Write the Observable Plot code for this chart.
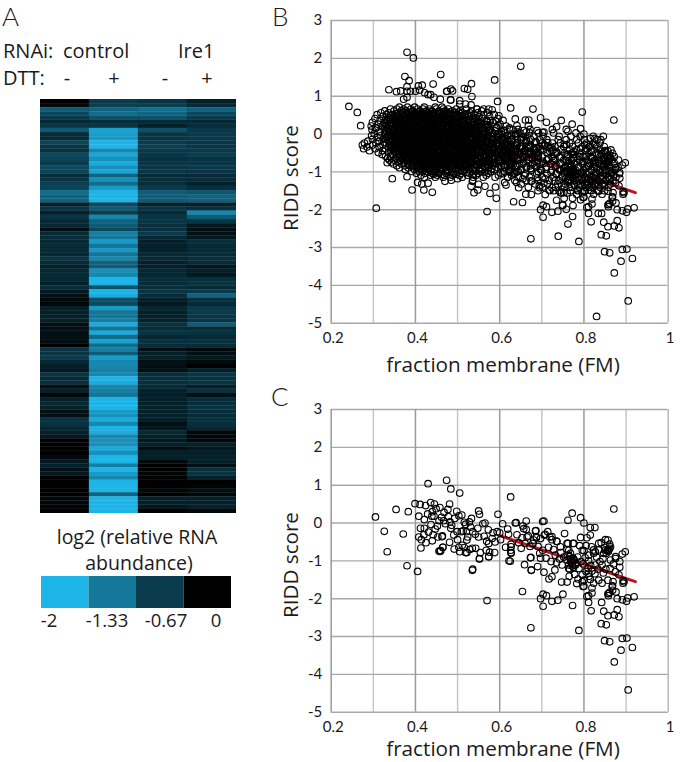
<!DOCTYPE html>
<html><head><meta charset="utf-8">
<script src="https://cdn.jsdelivr.net/npm/d3@7"></script>
<script src="https://cdn.jsdelivr.net/npm/@observablehq/plot@0.6"></script>
<style>
html,body{margin:0;padding:0;background:#fff}
#page{position:relative;width:680px;height:762px;overflow:hidden;font-family:"Open Sans",sans-serif;color:#1a1a1a}
#page>svg,#page>div.p{position:absolute}
.t{position:absolute;line-height:1.2;white-space:nowrap}
</style></head><body><div id="page"></div>
<script>
// Panel A: heat map values, one list per column, top row first
const columns = ["control -", "control +", "Ire1 -", "Ire1 +"];
const col1 = [0,-.05,-1,-.8,-.6,-.25,-.55,-1,-.35,-.3,-.75,-.55,-.45,-.8,-.75,-.6,-.8,-.75,-.35,-.5,-.7,-.75,-1.2,-1.1,-1.1,-.2,-.55,-.2,-.5,-.25,-.25,-.1,-.3,-.35,-.25,-.3,-.3,-.25,-.5,-.3,-.2,-.25,-.3,-.25,-.2,-.35,-.15,-.1,-.05,-.05,-.2,-.2,-.2,-.2,-.1,-.1,-.1,-.1,-.08,0,-.5,-.5,-.6,-.25,-.2,-.15,-.5,-.3,-.4,-.1,-.2,-.05,-.2,-.25,-.2,-.1,-.1,-.5,-.45,-.25,-.2,-.15,0,0,0,0,-.05,-.15,-.2,-.1,-.15,0,0,0,0,0,-.05,-.05,-.02,0];
const col2 = [-.65,-.7,-1.1,-1.2,-.9,-.3,-.5,-1.8,-1.75,-1.7,-2,-2,-1.5,-1.85,-1.6,-1.9,-1.6,-1.8,-1.1,-1.6,-1.2,-1.7,-2,-2,-2,-.8,-1,-.7,-1.5,-1.1,-1,-.8,-1.4,-1.3,-1.7,-1.3,-1.7,-1.3,-1.5,-1.1,-1,-1.6,-1.5,-2,-2,-.9,-2,-1.9,-.9,-.8,-1.7,-1.3,-1.3,-1.4,-1.9,-1.3,-1.9,-1.2,-1.8,-1.2,-1.4,-1,-1.7,-1.5,-1.5,-1.4,-1.5,-2,-1.9,-1.5,-1.4,-1.3,-2,-2,-2,-1.7,-1.6,-1.9,-1.5,-2,-1.9,-1.5,-1.6,-1.6,-1.9,-1.6,-2,-2,-1.4,-2,-1.7,-1.5,-2,-2,-2,-1.1,-2,-2,-2,-2];
const col3 = [-.5,-.7,-1.25,-1.1,-.9,-.3,-.2,-.9,-.5,-.5,-.65,-.7,-.6,-.55,-.45,-.55,-.5,-.55,-.3,-.4,-.35,-.6,-1,-1.05,-1,-.2,-.55,-.3,-.5,-.55,-.4,-.4,-.6,-.25,-.2,-.2,-.2,-.3,-.3,-.2,-.2,-.25,-.25,-.4,-.35,-.4,-.5,-.35,-.2,-.15,-.25,-.2,-.2,-.2,-.45,-.35,-.5,-.25,-.45,-.35,-.1,-.2,-.2,-.1,-.1,-.1,-.35,-.4,-.4,-.3,-.2,-.2,-.2,-.2,-.2,-.2,-.2,-.2,-.1,-.15,-.25,-.2,-.15,-.2,-.1,-.2,-.2,-.05,0,0,-.03,-.02,0,0,-.05,0,-.2,-.2,-.15,0];
const col4 = [-.2,-.3,-1.1,-.8,-.6,-.25,-.35,-.6,-.6,-.6,-.55,-.5,-.6,-.7,-.5,-.55,-.6,-.5,-.3,-.35,-.2,-.4,-.95,-1.1,-1.05,-.2,-.4,-1.5,-1,-.55,-.15,-.1,-.1,-.15,-.4,-.3,-.3,-.35,-.4,-.3,-.15,-.2,-.15,-.4,-.45,-.3,-.6,-1.1,-.4,-.3,-.6,-.6,-.55,-.5,-1,-.3,-.45,-.3,-.45,-.35,-.05,-.1,-.15,-.05,0,-.2,-.55,-.45,-.5,-.2,-.45,-.1,-.35,-.35,-.45,-.35,-.3,-.45,-.4,-.25,-.05,-.05,-.05,-.2,-.15,-.2,-.2,-.2,-.1,-.4,-.45,-.2,0,-.02,-.1,-.05,-.2,-.2,-.2,-.05];
// Panel A: colour key
const keyValues = [-2, -1.33, -.67, 0];
const keyLabels = ["-2", "-1.33", "-0.67", "0"];

// Panels B and C: axis ticks and grid
const xMajor = [.2,.4,.6,.8,1];
const xMinor = [.3,.5,.7,.9];
const yTicks = [-5,-4,-3,-2,-1,0,1,2,3];
const xDomain = [.2,1];
const yDomain = [-5,3];
// trend line, end points
const trendFM = [.602,.922];
const trendRidd = [-.34,-1.55];

// Panel C points, also present in panel B: [FM, RIDD score]
const filteredGenes = [[.305,.16],[.326,-.22],[.333,-.76],[.354,.36],[.371,-.29],[.383,.30],[.380,-1.13],[.399,.51],[.405,-1.28],[.411,.49],[.408,.18],[.408,-.37],[.412,-.14],[.421,-.14],[.420,-.31],[.414,-.44],[.413,-.66],[.425,-.52],[.424,.46],[.430,1.04],[.436,.54],[.445,.50],[.458,.41],[.421,.09],[.440,.30],[.439,.18],[.444,.18],[.437,-.04],[.440,-.47],[.453,-.37],[.463,-.36],[.464,-.34],[.465,-.64],[.458,-.75],[.477,.36],[.481,.50],[.474,1.13],[.484,.90],[.505,.79],[.462,.15],[.478,.17],[.467,.06],[.482,.03],[.486,-.06],[.484,-.14],[.491,-.32],[.499,-.23],[.509,-.23],[.513,-.21],[.500,-.44],[.481,-.51],[.492,-.69],[.503,-.64],[.511,-.59],[.505,-.76],[.519,-.78],[.516,-.65],[.503,.19],[.510,.21],[.519,-.03],[.528,.03],[.533,.12],[.524,-.37],[.522,-.45],[.536,-.23],[.542,-.30],[.550,-.37],[.550,.32],[.552,.23],[.560,-.02],[.565,0],[.563,-.35],[.569,-.48],[.574,-.54],[.535,-.67],[.543,-.67],[.529,-.70],[.522,-.78],[.554,-.78],[.552,-.95],[.568,-.72],[.576,-.77],[.574,-.89],[.588,-.78],[.584,-.26],[.596,.23],[.594,-.23],[.600,-.26],[.589,-.50],[.602,-.44],[.607,-.02],[.619,-.16],[.621,-.30],[.626,.69],[.637,0],[.639,.01],[.655,-.08],[.663,.05],[.657,-.15],[.663,-.17],[.665,-.37],[.668,-.34],[.653,-.39],[.645,-.52],[.627,-.56],[.626,-.72],[.627,-.80],[.622,-1],[.625,-1.01],[.651,-.67],[.660,-.54],[.681,-.45],[.685,-.21],[.687,-.39],[.705,.05],[.702,.04],[.714,-.23],[.706,-.32],[.719,-.37],[.724,-.44],[.735,-.48],[.754,-.28],[.772,.26],[.762,.07],[.792,.14],[.800,0],[.815,-.12],[.826,-.12],[.792,-.38],[.807,-.39],[.815,-.32],[.760,-.54],[.776,-.54],[.764,-.72],[.796,-.72],[.800,-.73],[.818,-.63],[.835,-.54],[.871,.37],[.851,-.44],[.857,-.45],[.861,-.56],[.861,-.67],[.855,-.73],[.847,-.80],[.827,-.76],[.875,-.94],[.891,-.82],[.898,-.76],[.823,-.80],[.673,-.92],
[.536,-1.22],[.570,-2.05],[.654,-1.81],[.659,-1.10],[.675,-1.24],[.674,-.91],[.627,-.63],[.627,-.78],[.552,-.94],[.574,-.89],[.46,-.73],[.456,-.74],[.465,-.64],
[.690,-1.15],[.697,-.93],[.710,-.93],[.732,-.85],[.748,-1.11],[.764,-1.20],[.772,-1],[.776,-.96],[.768,-.80],[.780,-1.07],[.811,-.85],[.823,-.71],[.835,-.71],[.841,-.52],[.857,-.71],[.686,-.20],[.708,-.30],[.697,-.41],[.687,-.36],[.679,-.54],[.724,-.36],[.736,-.49],[.744,-.63],[.762,-.54],[.774,-.54],[.760,-.70],[.875,-.89],[.863,-.98],[.843,-1.11],[.827,-1.11],[.811,-1],[.798,-1.08],[.796,-1.37],[.800,-1.51],[.798,-1.68],[.811,-1.33],[.815,-1.49],[.823,-1.59],[.835,-1.51],[.843,-1.59],[.857,-1.51],[.869,-1.55],[.885,-1.17],[.875,-1.29],[.883,-1.37],[.893,-1.59],[.895,-1.55],[.867,-1.68],[.859,-1.86],
[.766,-.89],[.774,-.93],[.769,-1.02],[.777,-.99],[.764,-1.11],[.772,-1.13],[.766,-1.22],[.780,-1.11],[.760,-.98],[.762,-.85],[.771,-1.05],[.775,-1.17],[.768,-.95],[.851,-.71],[.859,-.70],[.863,-.63],[.853,-.80],[.858,-.75],[.849,-.65],[.810,-1.2],[.816,-1.12],[.805,-1.28],[.819,-1.27],[.826,-1.34],[.812,-1.41],[.833,-1.22],[.838,-1.02],[.788,-1.2],[.793,-1.02],[.785,-.9],[.803,-.92],[.735,-1.05],[.722,-1.02],[.742,-.95],[.702,-.72],[.716,-.64],[.728,-.7],[.691,-.62],[.695,-.8],[.745,-.78],[.752,-.9],[.79,-.6],[.805,-.6],[.83,-.9],[.845,-.95],[.87,-1.08],[.885,-1.02],[.862,-1.2],[.846,-1.32],[.852,-1.22],
[.705,-1.30],[.535,-1.25],[.675,-1.25],[.717,-1.48],[.724,-1.42],[.731,-1.24],[.747,-1.56],[.760,-1.56],[.765,-1.41],[.697,-2],[.703,-1.88],[.711,-1.92],[.703,-2.2],[.724,-2.07],[.738,-2.04],[.750,-1.88],[.773,-2.18],[.674,-2.77],[.788,-2.84],[.800,-1.67],[.811,-1.92],[.807,-1.94],[.811,-2.1],[.817,-2.32],[.819,-1.85],[.819,-1.72],[.842,-2.1],[.847,-2.33],[.857,-2.45],[.872,-2.43],[.879,-2.29],[.883,-2.48],[.841,-2.66],[.853,-2.69],[.849,-3.11],[.861,-3.14],[.891,-3.05],[.902,-3.04],[.888,-3.36],[.915,-3.29],[.872,-3.67],[.905,-4.41],[.858,-1.92],[.861,-1.83],[.868,-1.78],[.868,-1.66],[.857,-1.87],[.876,-1.82],[.879,-2],[.891,-2.03],[.901,-2.07],[.904,-1.98],[.919,-1.95],[.893,-1.52],[.786,-1.48],[.778,-1.36],[.783,-1.6],[.796,-1.55],
[.447,-.16],[.452,-.08],[.431,-.24],[.442,-.31],[.471,-.02],[.456,.06],[.449,.38],[.468,.28],[.493,.12],[.516,.02],[.531,-.11],[.548,-.14],[.521,-.23],[.573,-.18],[.582,-.41],[.614,-.64],[.641,-.31],[.672,-.62],[.429,.24],[.498,.31]];

// Panel B: additional points that stand apart from the cloud
const outlyingGenes = [[.380,2.16],[.395,2.01],[.650,1.79],[.460,1.57],[.375,1.52],[.385,1.41],[.588,1.43],[.442,1.32],[.533,1.33],[.407,1.27],[.416,1.29],[.484,1.19],[.516,1.20],[.524,1.18],[.534,.99],[.475,1.13],[.488,1.14],[.337,1.17],[.355,1.12],[.365,1.14],[.380,1.25],[.380,1.13],[.388,1.13],[.400,1.13],[.410,1.16],[.422,1.09],[.436,1.04],[.444,.97],[.459,.92],[.372,.92],[.380,.97],[.242,.73],[.262,.57],[.270,.22],[.595,.86],[.679,.66],[.637,.40],[.661,.37],[.669,.37],[.697,.43],[.711,.31],[.746,.36],[.735,.19],[.796,.58],[.562,.66],[.574,.66],[.582,.64],[.505,.88],[.483,.90],[.519,.79],[.532,.77],[.546,.66],[.598,.48],[.578,.35],[.590,.35],[.623,.16],[.610,.09],[.657,.09],[.689,.09],
[.307,-1.96],[.633,-1.79],[.592,-1.70],[.577,-1.57],[.539,-1.55],[.548,-1.48],[.440,-1.54],[.420,-1.48],[.392,-1.48],[.662,-1.59],[.749,-1.88],[.758,-1.99],[.762,-2.38],[.739,-2.70],[.774,-1.89],[.834,-2.10],[.719,-1.5],[.728,-1.5],[.744,-1.55],[.752,-1.55],[.792,-1.74],[.830,-4.82],[.345,-1.18],[.415,-1.32],[.43,-1.3],[.47,-1.25],[.485,-1.22],[.50,-1.18],[.532,-1.38],[.55,-1.33],[.565,-1.38],[.59,-1.4],[.615,-1.35],[.612,-1.28],[.64,-1.28],[.645,-1.42],[.695,-1.42],[.708,-1.6],[.675,-1.6],[.773,-1.7],[.753,-1.7],[.735,-1.75]];

// Panel B: the dense cloud, read as [RIDD score, FM values at that score]
const cloudRows = [
[.71,[.362,.381,.398,.421,.447,.463]],
[.66,[.341,.356,.372,.389,.405,.418,.433,.449,.466,.478,.497,.521,.546]],
[.61,[.327,.349,.366,.378,.394,.411,.427,.439,.456,.471,.488,.507,.533,.557]],
[.56,[.318,.336,.358,.371,.385,.402,.416,.431,.445,.461,.476,.494,.512,.529,.548,.571]],
[.51,[.309,.331,.346,.363,.377,.391,.406,.421,.436,.452,.467,.483,.499,.518,.539,.562,.587]],
[.46,[.322,.352,.369,.383,.398,.412,.428,.443,.458,.474,.491,.508,.527,.551,.576]],
[.41,[.304,.341,.359,.374,.389,.403,.418,.434,.449,.463,.479,.496,.514,.536,.558,.596]],
[.36,[.316,.334,.351,.366,.381,.395,.411,.425,.441,.456,.471,.487,.505,.523,.547,.569,.608]],
[.31,[.298,.325,.344,.358,.372,.387,.401,.416,.432,.447,.462,.478,.493,.512,.531,.553,.584]],
[.26,[.311,.337,.353,.367,.381,.394,.409,.424,.438,.453,.469,.484,.501,.519,.541,.563,.601]],
[.21,[.295,.322,.346,.361,.375,.389,.404,.419,.433,.446,.461,.476,.492,.509,.528,.549,.572,.615]],
[.16,[.307,.333,.352,.369,.383,.398,.412,.427,.441,.456,.471,.486,.502,.521,.538,.559,.592]],
[.11,[.297,.326,.345,.362,.376,.391,.405,.419,.435,.449,.464,.479,.494,.512,.531,.551,.578,.632]],
[.06,[.314,.338,.355,.371,.385,.399,.413,.428,.443,.457,.473,.488,.504,.523,.542,.566,.604]],
[.01,[.302,.329,.348,.364,.378,.392,.407,.422,.436,.451,.466,.481,.497,.515,.534,.557,.587,.643]],
[-.04,[.296,.318,.341,.358,.372,.386,.401,.416,.431,.444,.459,.474,.491,.508,.527,.548,.573,.619]],
[-.09,[.309,.333,.352,.367,.381,.396,.411,.425,.439,.454,.469,.484,.501,.518,.537,.561,.596,.652]],
[-.14,[.298,.324,.345,.361,.375,.389,.404,.418,.433,.447,.463,.478,.494,.512,.532,.553,.581,.628]],
[-.19,[.287,.314,.338,.355,.369,.384,.398,.413,.428,.442,.457,.472,.487,.505,.524,.544,.569,.607,.664]],
[-.24,[.279,.306,.331,.349,.364,.378,.393,.407,.421,.436,.451,.466,.481,.498,.517,.538,.559,.592,.641]],
[-.29,[.274,.298,.323,.344,.359,.373,.388,.402,.417,.431,.446,.461,.476,.493,.511,.531,.553,.582,.621,.672]],
[-.34,[.285,.314,.337,.353,.368,.382,.397,.411,.426,.441,.455,.471,.487,.504,.522,.544,.571,.607,.651]],
[-.39,[.277,.304,.329,.348,.363,.377,.392,.406,.421,.436,.449,.465,.481,.498,.516,.536,.563,.596,.634,.681]],
[-.44,[.291,.322,.342,.358,.372,.387,.401,.416,.431,.445,.461,.476,.492,.511,.529,.552,.583,.618,.659]],
[-.49,[.312,.336,.353,.368,.382,.396,.411,.426,.439,.454,.469,.485,.503,.522,.544,.573,.605,.642,.688]],
[-.54,[.321,.346,.362,.377,.391,.406,.421,.434,.449,.464,.481,.497,.516,.537,.562,.594,.629,.668]],
[-.59,[.329,.341,.357,.372,.386,.401,.415,.429,.444,.459,.474,.491,.509,.531,.553,.584,.617,.653,.691]],
[-.64,[.334,.352,.368,.381,.397,.411,.424,.439,.455,.469,.486,.504,.524,.547,.576,.609,.641,.678]],
[-.69,[.338,.349,.363,.377,.392,.406,.419,.434,.451,.466,.481,.499,.518,.541,.567,.598,.632,.664]],
[-.74,[.343,.358,.373,.388,.402,.415,.431,.446,.461,.477,.494,.513,.535,.559,.588,.622,.657,.689]],
[-.79,[.348,.367,.384,.397,.412,.427,.442,.457,.473,.491,.509,.529,.552,.581,.613,.647]],
[-.84,[.356,.375,.392,.408,.423,.438,.453,.469,.486,.505,.524,.546,.572,.604,.638,.673]],
[-.89,[.362,.383,.403,.419,.434,.449,.466,.482,.501,.519,.541,.565,.596,.628,.663]],
[-.94,[.376,.398,.414,.431,.447,.463,.478,.497,.516,.536,.559,.587,.621,.652]],
[-.99,[.391,.409,.427,.443,.459,.476,.494,.513,.531,.553,.579,.612,.644]],
[-1.04,[.402,.423,.441,.456,.473,.491,.508,.528,.549,.573,.603,.636]],
[-1.09,[.413,.436,.452,.469,.487,.505,.524,.544,.568,.597,.628]],
[-1.14,[.421,.447,.466,.483,.511,.537,.561,.589,.619]]
];
// Panel B: the black heart of the cloud, read the same way
const coreRows = [
[.585,[.372,.391,.408,.423,.437,.454,.468,.483,.503]],
[.535,[.354,.367,.382,.397,.409,.424,.441,.456,.469,.487,.506,.523]],
[.485,[.343,.357,.374,.388,.403,.417,.431,.447,.462,.477,.492,.511,.533]],
[.435,[.337,.349,.364,.379,.394,.408,.423,.438,.453,.468,.484,.501,.519,.544]],
[.385,[.329,.346,.361,.376,.391,.405,.421,.436,.449,.466,.481,.497,.516,.538]],
[.335,[.333,.351,.368,.383,.397,.413,.427,.442,.458,.473,.489,.507,.526,.549,.571]],
[.285,[.326,.347,.362,.377,.392,.406,.419,.435,.451,.465,.481,.496,.513,.534,.556]],
[.235,[.331,.354,.371,.384,.399,.414,.429,.443,.459,.473,.489,.505,.523,.546,.568]],
[.185,[.328,.343,.363,.378,.393,.408,.422,.437,.452,.466,.482,.497,.514,.532,.557]],
[.135,[.337,.356,.372,.387,.401,.416,.431,.446,.461,.476,.491,.507,.526,.547,.574]],
[.085,[.331,.349,.366,.381,.395,.409,.424,.439,.453,.468,.484,.499,.516,.537,.561,.589]],
[.035,[.338,.358,.373,.388,.403,.418,.432,.447,.463,.478,.492,.509,.528,.551,.582]],
[-.015,[.327,.347,.365,.381,.396,.412,.426,.441,.456,.471,.486,.503,.521,.542,.566,.601]],
[-.065,[.336,.357,.374,.389,.404,.419,.433,.448,.462,.478,.494,.512,.531,.554,.583]],
[-.115,[.328,.351,.368,.383,.398,.411,.427,.442,.457,.472,.487,.504,.523,.544,.571,.612]],
[-.165,[.339,.358,.376,.391,.406,.421,.436,.451,.466,.481,.497,.516,.537,.562,.593]],
[-.215,[.343,.361,.378,.394,.408,.424,.438,.453,.469,.484,.502,.521,.543,.574,.614]],
[-.265,[.338,.356,.372,.387,.401,.416,.431,.445,.461,.476,.491,.508,.527,.551,.581,.627]],
[-.315,[.345,.363,.381,.396,.409,.424,.439,.453,.468,.483,.499,.517,.538,.564,.598]],
[-.365,[.341,.358,.374,.389,.403,.419,.433,.448,.463,.477,.492,.509,.529,.553,.586,.624]],
[-.415,[.347,.366,.381,.396,.411,.426,.441,.456,.471,.487,.504,.523,.545,.574,.611]],
[-.465,[.352,.372,.388,.403,.418,.433,.447,.462,.478,.494,.513,.533,.558,.596]],
[-.515,[.361,.379,.396,.412,.427,.442,.457,.472,.489,.507,.527,.551,.583,.618]],
[-.565,[.366,.384,.401,.417,.432,.448,.463,.478,.496,.514,.538,.567,.601]],
[-.615,[.373,.391,.408,.423,.438,.454,.469,.486,.505,.527,.553,.589,.626]],
[-.665,[.382,.401,.416,.431,.447,.463,.479,.497,.516,.541,.574,.611]],
[-.715,[.396,.412,.428,.443,.458,.474,.491,.511,.533,.563,.597]],
[-.765,[.403,.421,.437,.452,.468,.484,.503,.526,.554,.584]],
[-.815,[.417,.433,.449,.464,.481,.499,.518,.542,.571]]
];
// Panel B: darker shoulder of the cloud to the right of and below the heart
const shoulderRows = [
[.245,[.512,.531,.574]],
[.175,[.525,.546,.568,.593]],
[.095,[.378,.428,.507,.529,.553,.576,.611]],
[.015,[.356,.414,.465,.512,.538,.561,.596]],
[-.035,[.369,.427,.483,.521,.544,.569,.593,.628]],
[-.105,[.382,.441,.507,.528,.551,.577,.604]],
[-.175,[.367,.419,.472,.513,.534,.557,.586,.619]],
[-.225,[.394,.451,.509,.528,.553,.581,.606,.636]],
[-.275,[.376,.433,.486,.517,.541,.566,.594,.617]],
[-.325,[.398,.456,.506,.528,.549,.576,.603,.633]],
[-.375,[.363,.414,.471,.513,.537,.561,.589,.616,.648]],
[-.425,[.386,.437,.491,.521,.542,.568,.597,.626]],
[-.475,[.367,.411,.463,.507,.529,.551,.581,.611,.637]],
[-.525,[.386,.434,.481,.518,.539,.563,.591,.624]],
[-.575,[.374,.422,.469,.507,.526,.548,.576,.606,.631]],
[-.625,[.362,.409,.447,.494,.518,.541,.567,.596,.618]],
[-.675,[.371,.393,.439,.478,.506,.529,.557,.584,.612,.645]],
[-.725,[.381,.406,.452,.489,.521,.547,.576,.603,.631]],
[-.775,[.392,.414,.443,.474,.501,.533,.562,.593,.622]],
[-.825,[.384,.403,.424,.459,.491,.516,.549,.583,.611]],
[-.865,[.394,.416,.441,.472,.508,.533,.567,.603]],
[-.915,[.408,.425,.457,.489,.526,.553,.581]],
[-.965,[.418,.436,.471,.503,.541,.572]],
[-1.015,[.431,.451,.486,.521,.564]],
[-1.065,[.443,.463,.497,.537]]
];
// Panel B: the sloping tail of the cloud, read as [RIDD score, FM values at that score]
const tailRows = [
[.22,[.641,.668]],
[.12,[.624,.644,.672,.725,.758]],
[.03,[.612,.648,.671,.692,.728,.781]],
[-.06,[.618,.637,.662,.681,.703,.741,.769,.791,.822,.846]],
[-.15,[.608,.629,.651,.674,.695,.712,.739,.758,.783,.801,.831,.84]],
[-.24,[.616,.641,.662,.683,.701,.725,.744,.766,.787,.806,.823,.838]],
[-.33,[.629,.654,.672,.694,.716,.731,.752,.773,.796,.813,.831,.848]],
[-.42,[.614,.638,.661,.684,.703,.727,.745,.766,.782,.804,.821,.839,.864]],
[-.51,[.626,.649,.673,.692,.713,.734,.754,.771,.789,.812,.829,.846,.868]],
[-.6,[.607,.635,.658,.682,.701,.724,.742,.761,.781,.798,.816,.838,.854,.872]],
[-.69,[.616,.644,.669,.691,.712,.733,.752,.771,.789,.807,.826,.843,.866,.882]],
[-.78,[.628,.656,.678,.703,.721,.743,.763,.778,.796,.814,.834,.852,.873]],
[-.87,[.611,.639,.664,.688,.711,.732,.756,.769,.787,.806,.825,.845,.862,.881]],
[-.96,[.624,.649,.675,.699,.723,.745,.762,.781,.799,.818,.836,.854,.872]],
[-1.05,[.608,.633,.661,.688,.712,.734,.753,.774,.791,.809,.828,.847,.866,.884]],
[-1.14,[.619,.644,.671,.701,.727,.749,.768,.786,.802,.821,.839,.858,.876]],
[-1.23,[.636,.663,.692,.718,.741,.761,.779,.797,.815,.833,.851,.869]],
[-1.32,[.651,.684,.713,.738,.756,.776,.792,.808,.827,.844,.863]],
[-1.41,[.668,.702,.733,.754,.772,.789,.804,.821,.838,.857]],
[-1.5,[.691,.741,.768,.785,.802,.818,.833,.849]],
[-.285,[.637,.706,.759,.802,.826]],
[-.465,[.622,.671,.719,.776,.817,.849]],
[-.645,[.628,.677,.727,.776,.819,.846,.861]],
[-.825,[.631,.683,.735,.771,.811,.842,.857]],
[-1.005,[.641,.692,.752,.795,.829,.851,.867]],
[-1.185,[.655,.708,.757,.794,.825,.843,.861]],
[-1.365,[.694,.747,.786,.817,.835,.849]]
];

const fromRows = rows => rows.flatMap(([score, fms]) => fms.map(fm => [fm, score]));
const allGenes = [...filteredGenes, ...outlyingGenes, ...fromRows(cloudRows), ...fromRows(coreRows), ...fromRows(shoulderRows), ...fromRows(tailRows)];

const page = document.getElementById("page");
function place(node, left, top){ node.style.left = left+"px"; node.style.top = top+"px"; page.appendChild(node); return node; }
function text(str, left, top, size, extra){
  const s = document.createElement("div"); s.className = "t"; s.textContent = str;
  s.style.left = left+"px"; s.style.top = top+"px"; s.style.fontSize = size+"px";
  if (extra) Object.assign(s.style, extra);
  page.appendChild(s); return s;
}
const colorScale = {type:"linear", domain:[-2,-.67,-.25,0], range:["#1db4e8","#0a3c4e","#052833","#000000"], clamp:true};

// heat map
const rows = d3.range(col1.length);
const heat = rows.flatMap(i => [col1,col2,col3,col4].map((c,j) => ({row:i, column:columns[j], value:c[i]})));
const heatmap = Plot.plot({
  width:196, height:414, margin:0,
  x:{type:"band", domain:columns, padding:0, round:false, axis:null},
  y:{type:"band", domain:rows, padding:0, round:false, axis:null},
  color:colorScale,
  marks:[Plot.cell(heat,{x:"column", y:"row", fill:"value", stroke:"value", strokeWidth:.3})]
});
heatmap.style.filter = "blur(0.6px)";
place(heatmap, 39.5, 98.5);

// colour key
const key = Plot.plot({
  width:190, height:32, margin:0,
  x:{type:"band", domain:keyValues, padding:0, round:false, axis:null},
  y:{axis:null},
  color:colorScale,
  marks:[Plot.cell(keyValues,{x:d=>d, fill:d=>d})]
});
place(key, 41, 576);

function scatter(points, top){
  const svg = Plot.plot({
    width:410, height:380,
    marginLeft:60.7, marginRight:12.3, marginTop:20, marginBottom:57.3,
    style:{background:"transparent", overflow:"visible"},
    x:{domain:xDomain, axis:null},
    y:{domain:yDomain, axis:null},
    marks:[
      Plot.ruleX(xMinor,{stroke:"#c4c4c4", strokeWidth:1.4}),
      Plot.ruleY(yTicks,{stroke:"#a8a8a8", strokeWidth:1.4}),
      Plot.ruleX([1],{stroke:"#b4b4b4", strokeWidth:1.4}),
      Plot.ruleX(xMajor.slice(0,-1),{stroke:"#9a9a9a", strokeWidth:1.5}),
      Plot.line(trendFM.map((x,i)=>[x,trendRidd[i]]),{x:d=>d[0], y:d=>d[1], stroke:"#c4121f", strokeWidth:3}),
      Plot.dot(points,{x:d=>d[0], y:d=>d[1], r:3.3, stroke:"#000", strokeWidth:1.1, fill:"none"}),
      Plot.axisX({ticks:xMajor, tickSize:0, tickPadding:9, dx:2, fontSize:15, tickFormat:String, fontFamily:"Lato", label:null, color:"#1a1a1a"}),
      Plot.axisY({ticks:yTicks, tickSize:0, tickPadding:9, fontSize:15, tickFormat:String, fontFamily:"Lato", label:null, color:"#1a1a1a"})
    ]
  });
  place(svg, 270, top);
  return svg;
}
scatter(allGenes, 0);
scatter(filteredGenes, 389.3);

// text
const letter = {fontFamily:"Lato", fontWeight:300};
text("A", 2, .5, 26, letter);
text("B", 272, 1, 26, letter);
text("C", 271, 381, 26, letter);
text("RNAi:", 3, 39, 20);
text("control", 63, 39, 20);
text("Ire1", 178, 39, 20);
text("DTT:", 3, 66, 20);
[["-",67],["+",114],["-",165],["+",207]].forEach(([t,x])=>text(t,x,66,20,{transform:"translateX(-50%)"}));
text("log2 (relative RNA", 137, 525, 19.5, {transform:"translateX(-50%)"});
text("abundance)", 139, 551, 19.5, {transform:"translateX(-50%)"});
const keyX = [49,107,166,216];
keyLabels.forEach((t,i)=>text(t, keyX[i], 609, 18.5, {transform:"translateX(-50%)"}));
[[0,351.5,178],[389.3,346.5,175.2]].forEach(([top,dy,cy])=>{
  text("fraction membrane (FM)", 503, top+dy, 20.7, {transform:"translateX(-50%)"});
  text("RIDD score", 289.5, top+cy, 20.6, {transform:"translate(-50%,-50%) rotate(-90deg)"});
});
</script></body></html>
